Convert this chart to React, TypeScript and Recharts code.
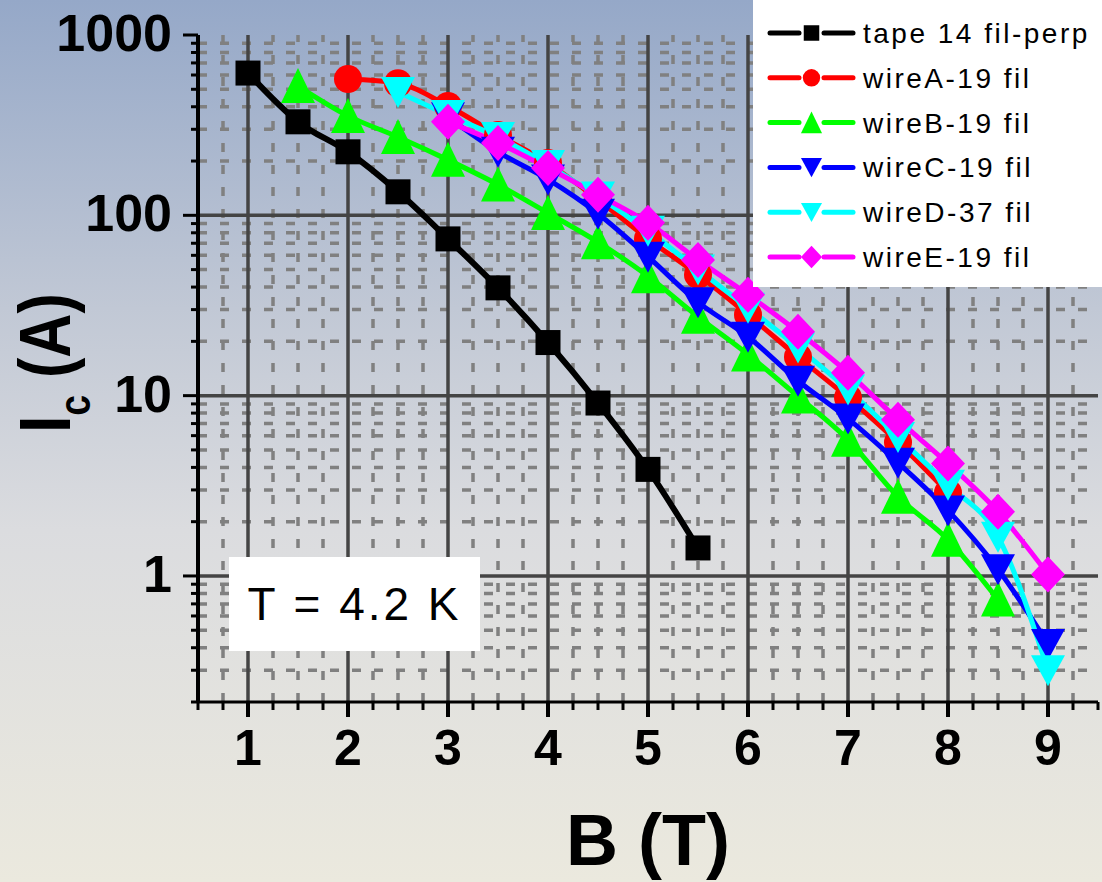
import React from 'react';
import { LineChart, Line, XAxis, YAxis, ReferenceLine, Legend } from 'recharts';

// Critical current Ic (A) versus field B (T), T = 4.2 K
const tapeB = [1, 1.5, 2, 2.5, 3, 3.5, 4, 4.5, 5, 5.5];
const tapeIc = [615, 330, 225, 135, 74, 39.6, 19.7, 9.1, 3.9, 1.43];

const wireAB = [2, 2.5, 3, 3.5, 4, 4.5, 5, 5.5, 6, 6.5, 7, 7.5, 8];
const wireAIc = [570, 540, 404, 279, 195, 122, 74, 46.8, 28.1, 16.4, 9.75, 5.5, 2.9];

const wireBB = [1.5, 2, 2.5, 3, 3.5, 4, 4.5, 5, 5.5, 6, 6.5, 7, 7.5, 8, 8.5];
const wireBIc = [521, 356, 272, 203, 148, 103, 71, 46, 27.4, 16.9, 9.9, 5.7, 2.75, 1.59, 0.74];

const wireCB = [3, 3.5, 4, 4.5, 5, 5.5, 6, 6.5, 7, 7.5, 8, 8.5, 9];
const wireCIc = [350, 225, 158, 102, 59, 33, 21.2, 12.1, 7.46, 4.25, 2.31, 1.09, 0.42];

const wireDB = [2.5, 3, 3.5, 4, 4.5, 5, 5.5, 6, 6.5, 7, 7.5, 8, 8.5, 9];
const wireDIc = [483, 360, 272, 190, 127, 82, 50, 30.7, 18.5, 10.8, 5.9, 3.2, 1.65, 0.3];

const wireEB = [3, 3.5, 4, 4.5, 5, 5.5, 6, 6.5, 7, 7.5, 8, 8.5, 9];
const wireEIc = [330, 252, 183, 130, 91, 56.6, 36.3, 22.6, 13.4, 7.36, 4.2, 2.27, 1.02];

const seriesNames = ['tape 14 fil-perp', 'wireA-19 fil', 'wireB-19 fil', 'wireC-19 fil', 'wireD-37 fil', 'wireE-19 fil'];
const seriesColors = ['#000000', '#ff0000', '#00ff00', '#0000ff', '#00ffff', '#ff00ff'];
const seriesShapes = ['square', 'circle', 'up', 'down', 'down', 'diamond'];

// Axis ticks
const xMajorTicks = [1, 2, 3, 4, 5, 6, 7, 8, 9];
const yMajorTicks = [1, 10, 100, 1000];
const yMultipliers = [2, 3, 4, 5, 6, 7, 8, 9];
const yDecades = [0.1, 1, 10, 100];

const xAllTicks: number[] = Array.from({ length: 37 }, (_, i) => 0.5 + i * 0.25);
const xMinorGrid = xAllTicks.filter((v) => !Number.isInteger(v) && v > 0.5 && v < 9.5);
const yMinorTicks: number[] = yDecades
  .flatMap((d) => yMultipliers.map((m) => +(d * m).toPrecision(3)))
  .filter((v) => v >= 0.2 && v < 1000);
const yAllTicks = [...yMinorTicks, ...yMajorTicks].sort((a, b) => a - b);
const yMinorGrid = yMinorTicks.filter((v) => v > 0.2);
const yMajorGrid = [1, 10, 100];

const toRows = (b: number[], ic: number[]) => b.map((v, i) => ({ b: v, ic: ic[i] }));
const seriesData = [
  toRows(tapeB, tapeIc),
  toRows(wireAB, wireAIc),
  toRows(wireBB, wireBIc),
  toRows(wireCB, wireCIc),
  toRows(wireDB, wireDIc),
  toRows(wireEB, wireEIc),
];

const FONT = '"Liberation Sans", Arial, sans-serif';

function Marker({ shape, cx, cy, color, scale }: { shape: string; cx: number; cy: number; color: string; scale: number }) {
  const k = scale;
  if (shape === 'square') {
    const h = 12.5 * k;
    return <rect x={cx - h} y={cy - h} width={2 * h} height={2 * h} fill={color} />;
  }
  if (shape === 'circle') {
    return <circle cx={cx} cy={cy} r={14 * k} fill={color} />;
  }
  if (shape === 'up') {
    const pts = `${cx},${cy - 18 * k} ${cx - 17 * k},${cy + 17 * k} ${cx + 17 * k},${cy + 17 * k}`;
    return <polygon points={pts} fill={color} />;
  }
  if (shape === 'down') {
    const pts = `${cx - 17 * k},${cy - 15 * k} ${cx + 17 * k},${cy - 15 * k} ${cx},${cy + 16 * k}`;
    return <polygon points={pts} fill={color} />;
  }
  const pts = `${cx},${cy - 18 * k} ${cx + 17 * k},${cy} ${cx},${cy + 18 * k} ${cx - 17 * k},${cy}`;
  return <polygon points={pts} fill={color} />;
}

const makeDot = (shape: string, color: string) => (p: any) => {
  if (p.cx == null || p.cy == null) return <g key={`e${p.index}`} />;
  return (
    <g key={`m${p.index}`}>
      <Marker shape={shape} cx={p.cx} cy={p.cy} color={color} scale={1} />
    </g>
  );
};

const XTickBottom = (props: any) => {
  const { x, y, payload } = props;
  const v = payload.value as number;
  const major = Number.isInteger(v);
  return (
    <g>
      <line x1={x} x2={x} y1={y} y2={y + (major ? 15 : 8)} stroke="#000" strokeWidth={major ? 4 : 3} />
      {major && (
        <text x={x} y={y + 63} textAnchor="middle" fontSize={50} fontWeight="bold" fontFamily={FONT} fill="#000">
          {v}
        </text>
      )}
    </g>
  );
};

const XTickTop = (props: any) => {
  const { x, y, payload } = props;
  const v = payload.value as number;
  const major = Number.isInteger(v);
  return <line x1={x} x2={x} y1={y} y2={y + (major ? 10 : 7)} stroke="#000" strokeWidth={3} />;
};

const YTickLeft = (props: any) => {
  const { x, y, payload } = props;
  const v = payload.value as number;
  const major = yMajorTicks.includes(v);
  return (
    <g>
      <line x1={x} x2={x - (major ? 15 : 7)} y1={y} y2={y} stroke="#000" strokeWidth={3} />
      {major && (
        <text x={x - 26} y={y + 16} textAnchor="end" fontSize={52} fontWeight="bold" fontFamily={FONT} fill="#000">
          {v}
        </text>
      )}
    </g>
  );
};

const YTickRight = (props: any) => {
  const { x, y, payload } = props;
  const v = payload.value as number;
  const major = yMajorTicks.includes(v);
  return <line x1={x} x2={x - (major ? 10 : 7)} y1={y} y2={y} stroke="#000" strokeWidth={3} />;
};

// Rotated axis title, slightly condensed along the text direction
const YTitle = () => (
  <text
    transform="rotate(-90) scale(0.85 1)"
    x={-363 / 0.85}
    y={70}
    textAnchor="middle"
    fontSize={72}
    fontWeight="bold"
    fontFamily={FONT}
    fill="#000"
  >
    I
    <tspan fontSize={44} dy={20}>c</tspan>
    <tspan dy={-20}> (A)</tspan>
  </text>
);

const LegendBox = () => (
  <div style={{ width: 349, height: 287, background: '#ffffff' }}>
    <svg width={349} height={287}>
      {seriesNames.map((name, i) => {
        const cy = 33 + i * 44.8;
        const c = seriesColors[i];
        return (
          <g key={name}>
            <line x1={17} x2={46} y1={cy} y2={cy} stroke={c} strokeWidth={5} strokeLinecap="round" />
            <line x1={71} x2={100} y1={cy} y2={cy} stroke={c} strokeWidth={5} strokeLinecap="round" />
            <Marker shape={seriesShapes[i]} cx={58.5} cy={cy} color={c} scale={0.62} />
            <text x={110} y={cy + 10} fontSize={28} fontFamily={FONT} letterSpacing={2.5} fill="#000">
              {name}
            </text>
          </g>
        );
      })}
    </svg>
  </div>
);

export default function App() {
  return (
    <div
      style={{
        position: 'absolute',
        left: 0,
        top: 0,
        width: 1102,
        height: 882,
        background: 'linear-gradient(180deg, #95a8c8 0%, #c1c8d5 35%, #dbdcdf 60%, #ebe9de 100%)',
        overflow: 'hidden',
      }}
    >
      <LineChart width={1102} height={882} margin={{ top: 35, right: 4, bottom: 0, left: 0 }}>
        <XAxis
          dataKey="b"
          type="number"
          domain={[0.5, 9.5]}
          ticks={xAllTicks}
          interval={0}
          height={180}
          tickSize={0}
          tickMargin={0}
          tick={<XTickBottom />}
          axisLine={{ stroke: '#000', strokeWidth: 3 }}
          allowDataOverflow
          label={{
            value: 'B (T)',
            position: 'insideBottom',
            offset: 17,
            fontSize: 72,
            fontWeight: 'bold',
            fontFamily: FONT,
            fill: '#000',
          }}
        />
        <XAxis
          xAxisId="top"
          orientation="top"
          type="number"
          domain={[0.5, 9.5]}
          ticks={xAllTicks}
          interval={0}
          height={0}
          tickSize={0}
          tickMargin={0}
          tick={<XTickTop />}
          axisLine={{ stroke: '#000', strokeWidth: 3 }}
          allowDataOverflow
        />
        <YAxis
          dataKey="ic"
          type="number"
          scale="log"
          domain={[0.2, 1000]}
          ticks={yAllTicks}
          interval={0}
          width={198}
          tickSize={0}
          tickMargin={0}
          tick={<YTickLeft />}
          axisLine={{ stroke: '#000', strokeWidth: 4 }}
          allowDataOverflow
          label={<YTitle />}
        />
        <YAxis
          yAxisId="right"
          orientation="right"
          type="number"
          scale="log"
          domain={[0.2, 1000]}
          ticks={yAllTicks}
          interval={0}
          width={0}
          tickSize={0}
          tickMargin={0}
          tick={<YTickRight />}
          axisLine={{ stroke: '#000', strokeWidth: 3 }}
          allowDataOverflow
        />

        {xMinorGrid.map((v) => (
          <ReferenceLine key={`xm${v}`} x={v} stroke="#808080" strokeWidth={3.5} strokeDasharray="9 13" zIndex={-60} />
        ))}
        {yMinorGrid.map((v) => (
          <ReferenceLine key={`ym${v}`} y={v} stroke="#808080" strokeWidth={3.5} strokeDasharray="9 13" zIndex={-60} />
        ))}
        {xMajorTicks.map((v) => (
          <ReferenceLine key={`xM${v}`} x={v} stroke="#444444" strokeWidth={3.5} zIndex={-50} />
        ))}
        {yMajorGrid.map((v) => (
          <ReferenceLine key={`yM${v}`} y={v} stroke="#444444" strokeWidth={3.5} zIndex={-50} />
        ))}

        {seriesData.map((rows, i) => (
          <Line
            key={seriesNames[i]}
            name={seriesNames[i]}
            data={rows}
            dataKey="ic"
            type="monotone"
            stroke={seriesColors[i]}
            strokeWidth={i === 0 ? 6 : 5}
            dot={makeDot(seriesShapes[i], seriesColors[i])}
            activeDot={false}
            isAnimationActive={false}
          />
        ))}

        <Legend
          layout="vertical"
          align="center"
          verticalAlign="middle"
          content={<LegendBox />}
          wrapperStyle={{ position: 'absolute', left: 753, top: 0, width: 349, height: 287 }}
        />
      </LineChart>
      <div
        style={{
          position: 'absolute',
          left: 229,
          top: 557,
          width: 251,
          height: 94,
          background: '#ffffff',
          display: 'flex',
          alignItems: 'center',
          justifyContent: 'center',
          fontFamily: FONT,
          fontSize: 46,
          letterSpacing: 3,
          color: '#000',
        }}
      >
        T = 4.2 K
      </div>
    </div>
  );
}
